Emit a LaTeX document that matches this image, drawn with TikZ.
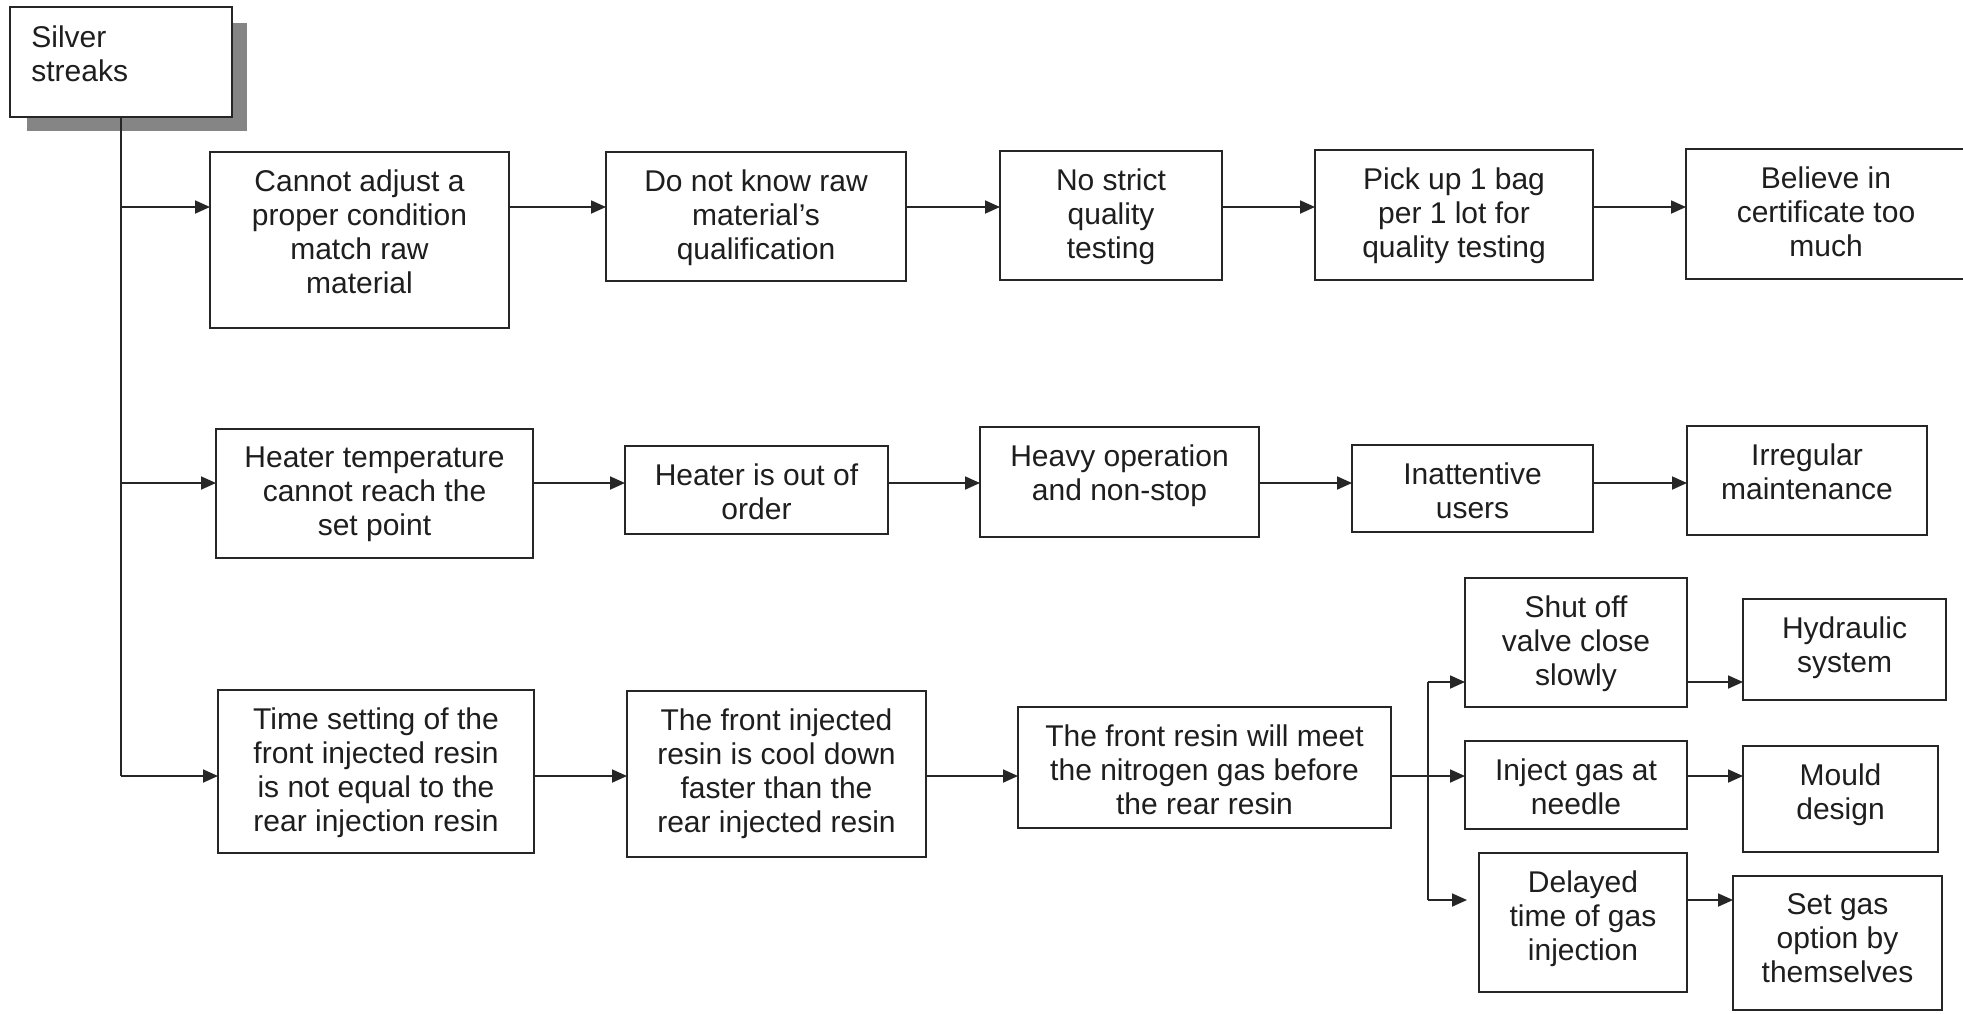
\documentclass[tikz,border=0pt]{standalone}
\usepackage{fontspec}
\setmainfont{Liberation Sans}
\usetikzlibrary{arrows.meta}
\definecolor{ln}{HTML}{262626}
\definecolor{tx}{HTML}{1E1E1E}
\definecolor{shd}{HTML}{858585}
\tikzset{
  boxr/.style={draw=ln, line width=0.9pt, fill=white, inner sep=0pt, outer sep=0pt, anchor=north west},
  lbl/.style={text=tx, font=\fontsize{15pt}{17pt}\selectfont, align=center, inner sep=0pt, anchor=north},
  arr/.style={draw=ln, line width=0.9pt, -{Triangle[length=7.5pt,width=6.5pt]}},
  con/.style={draw=ln, line width=0.9pt},
}
% name, x1, y1, x2, y2, text
\newcommand{\mybx}[6]{%
  \node[boxr, minimum width={(#4-#2)*0.5pt}, minimum height={(#5-#3)*0.5pt}] (#1) at (#2,#3) {};
  \node[lbl] (#1t) at ([yshift=-8.5pt]#1.north) {#6};
}
\begin{document}
\begin{tikzpicture}[x=0.5pt, y=-0.5pt]
\fill[white] (0,0) rectangle (1963,1013);
\useasboundingbox (0,0) rectangle (1963,1013);

% row levels
\coordinate (r1) at (0,207);
\coordinate (r2) at (0,483);
\coordinate (r3) at (0,776);
\coordinate (q1) at (0,682);
\coordinate (q3) at (0,900);
\coordinate (bx) at (1428,776);

% root with shadow
\fill[shd] (27,23) rectangle (247,131);
\node[boxr, minimum width={222*0.5pt}, minimum height={110*0.5pt}] (S) at (10,7) {};
\node[lbl, align=left, anchor=north west] (St) at (31,25) {Silver\\streaks};

% row 1
\mybx{B1}{210}{152}{509}{328}{Cannot adjust a\\proper condition\\match raw\\material}
\mybx{B2}{606}{152}{906}{281}{Do not know raw\\material’s\\qualification}
\mybx{B3}{1000}{151}{1222}{280}{No strict\\quality\\testing}
\mybx{B4}{1315}{150}{1593}{280}{Pick up 1 bag\\per 1 lot for\\quality testing}
\mybx{B5}{1686}{149}{1966}{279}{Believe in\\certificate too\\much}

% row 2
\mybx{C1}{216}{429}{533}{558}{Heater temperature\\cannot reach the\\set point}
\mybx{C2}{625}{446}{888}{534}{Heater is out of\\order}
\mybx{C3}{980}{427}{1259}{537}{Heavy operation\\and non-stop}
\mybx{C4}{1352}{445}{1593}{532}{Inattentive\\users}
\mybx{C5}{1687}{426}{1927}{535}{Irregular\\maintenance}

% row 3
\mybx{D1}{218}{690}{534}{853}{Time setting of the\\front injected resin\\is not equal to the\\rear injection resin}
\mybx{D2}{627}{691}{926}{857}{The front injected\\resin is cool down\\faster than the\\rear injected resin}
\mybx{D3}{1018}{707}{1391}{828}{The front resin will meet\\the nitrogen gas before\\the rear resin}
\mybx{E1}{1465}{578}{1687}{707}{Shut off\\valve close\\slowly}
\mybx{E2}{1465}{741}{1687}{829}{Inject gas at\\needle}
\mybx{E3}{1479}{853}{1687}{992}{Delayed\\time of gas\\injection}
\mybx{F1}{1743}{599}{1946}{700}{Hydraulic\\system}
\mybx{F2}{1743}{746}{1938}{852}{Mould\\design}
\mybx{F3}{1733}{876}{1942}{1010}{Set gas\\option by\\themselves}

% trunk
\draw[con] (S.south) -- (S.south |- r3);
\draw[arr] (S.south |- r1) -- (B1.west |- r1);
\draw[arr] (S.south |- r2) -- (C1.west |- r2);
\draw[arr] (S.south |- r3) -- (D1.west |- r3);

% row 1 chain
\draw[arr] (B1.east |- r1) -- (B2.west |- r1);
\draw[arr] (B2.east |- r1) -- (B3.west |- r1);
\draw[arr] (B3.east |- r1) -- (B4.west |- r1);
\draw[arr] (B4.east |- r1) -- (B5.west |- r1);

% row 2 chain
\draw[arr] (C1.east |- r2) -- (C2.west |- r2);
\draw[arr] (C2.east |- r2) -- (C3.west |- r2);
\draw[arr] (C3.east |- r2) -- (C4.west |- r2);
\draw[arr] (C4.east |- r2) -- (C5.west |- r2);

% row 3 chain
\draw[arr] (D1.east |- r3) -- (D2.west |- r3);
\draw[arr] (D2.east |- r3) -- (D3.west |- r3);
\draw[arr] (D3.east |- r3) -- (E2.west |- r3);
\draw[con] (bx |- q1) -- (bx |- q3);
\draw[arr] (bx |- q1) -- (E1.west |- q1);
\draw[arr, shorten >=6pt] (bx |- q3) -- (E3.west |- q3);

% last column
\draw[arr] (E1.east |- q1) -- (F1.west |- q1);
\draw[arr] (E2.east |- r3) -- (F2.west |- r3);
\draw[arr] (E3.east |- q3) -- (F3.west |- q3);
\end{tikzpicture}
\end{document}
